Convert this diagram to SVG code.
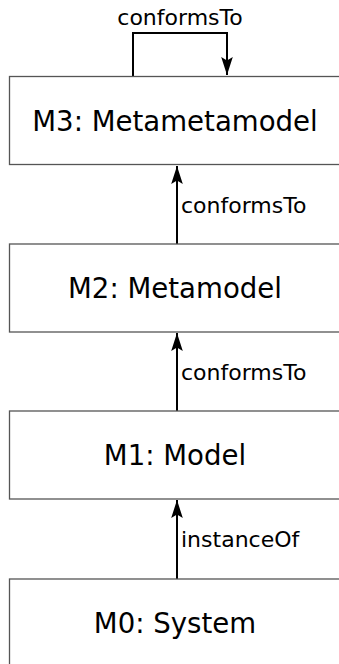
<svg xmlns="http://www.w3.org/2000/svg" width="339" height="664" viewBox="0 0 339 664">
<style>
.box{fill:#fff;stroke:#555;stroke-width:1.3}
.lbl{font-family:"DejaVu Sans",Verdana,sans-serif;font-size:27.6px;fill:#000;text-anchor:middle}
.elbl{font-family:"DejaVu Sans",Verdana,sans-serif;font-size:22px;fill:#000}
.edge{fill:none;stroke:#000;stroke-width:2}
</style>
<defs>
<marker id="arr" markerUnits="userSpaceOnUse" markerWidth="19" markerHeight="12" viewBox="-18 -6 19 12" refX="0" refY="0" orient="auto">
<path d="M0,0 L-18,-5.8 L-14.5,0 L-18,5.8 Z" fill="#000"/>
</marker>
</defs>
<rect width="339" height="664" fill="#fff"/>
<g id="connectors">
<path class="edge" d="M133,76 V33 H227 V75" marker-end="url(#arr)"/>
<text class="elbl" x="180" y="25" text-anchor="middle">conformsTo</text>
<path class="edge" d="M177,244 V166" marker-end="url(#arr)"/>
<text class="elbl" x="181" y="213">conformsTo</text>
<path class="edge" d="M177,411 V333" marker-end="url(#arr)"/>
<text class="elbl" x="181" y="380">conformsTo</text>
<path class="edge" d="M177,579 V500" marker-end="url(#arr)"/>
<text class="elbl" x="181" y="547">instanceOf</text>
</g>
<g id="m3">
<rect class="box" x="9.5" y="76.5" width="331" height="88"/>
<text class="lbl" x="175" y="131">M3: Metametamodel</text>
</g>
<g id="m2">
<rect class="box" x="9.5" y="244" width="331" height="88"/>
<text class="lbl" x="175" y="298">M2: Metamodel</text>
</g>
<g id="m1">
<rect class="box" x="9.5" y="411" width="331" height="88"/>
<text class="lbl" x="175" y="465">M1: Model</text>
</g>
<g id="m0">
<rect class="box" x="9.5" y="579" width="331" height="100"/>
<text class="lbl" x="175" y="633">M0: System</text>
</g>
</svg>
